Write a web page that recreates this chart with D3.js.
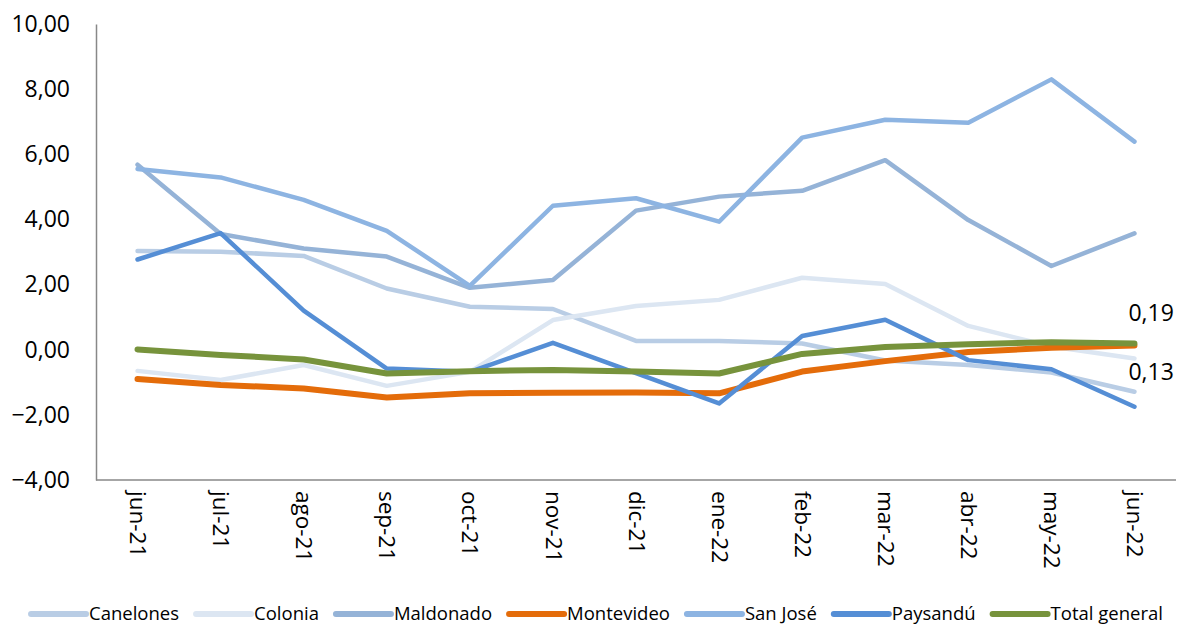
<!DOCTYPE html>
<html>
<head>
<meta charset="utf-8">
<script src="https://cdn.jsdelivr.net/npm/d3@7"></script>
<style>
  body { margin: 0; background: #fff; }
  #chart { width: 1178px; height: 626px; }
  text { font-family: "Open Sans", "Noto Sans", sans-serif; fill: #000; }
</style>
</head>
<body>
<div id="chart"></div>
<script>
const months = ["jun-21", "jul-21", "ago-21", "sep-21", "oct-21", "nov-21", "dic-21",
  "ene-22", "feb-22", "mar-22", "abr-22", "may-22", "jun-22"];
const yTicks = [-4, -2, 0, 2, 4, 6, 8, 10];

const canelones = [3.03, 3.01, 2.88, 1.88, 1.32, 1.25, 0.27, 0.27, 0.19, -0.33, -0.47, -0.70, -1.29];
const colonia = [-0.65, -0.93, -0.47, -1.11, -0.68, 0.91, 1.34, 1.53, 2.21, 2.02, 0.73, 0.10, -0.27];
const maldonado = [5.68, 3.55, 3.11, 2.86, 1.90, 2.14, 4.27, 4.70, 4.88, 5.82, 3.98, 2.57, 3.57];
const montevideo = [-0.90, -1.08, -1.19, -1.47, -1.34, -1.32, -1.31, -1.34, -0.67, -0.35, -0.07, 0.06, 0.13];
const sanJose = [5.55, 5.29, 4.60, 3.65, 1.96, 4.42, 4.65, 3.93, 6.51, 7.06, 6.97, 8.30, 6.39];
const paysandu = [2.77, 3.58, 1.20, -0.58, -0.68, 0.21, -0.72, -1.65, 0.42, 0.92, -0.32, -0.60, -1.75];
const totalGeneral = [0.01, -0.16, -0.30, -0.73, -0.66, -0.62, -0.67, -0.73, -0.13, 0.08, 0.17, 0.23, 0.19];

(function() {
  const width = 1178;
  const height = 626;
  const margin = { top: 24, right: 2, bottom: 146, left: 96 };

  const series = [
    { name: "Canelones", values: canelones, color: "#B9CDE5", w: 4.5 },
    { name: "Colonia", values: colonia, color: "#DCE6F2", w: 4.5 },
    { name: "Maldonado", values: maldonado, color: "#95B3D7", w: 4.5 },
    { name: "Montevideo", values: montevideo, color: "#E46C0A", w: 6 },
    { name: "San José", values: sanJose, color: "#8DB4E2", w: 4.5 },
    { name: "Paysandú", values: paysandu, color: "#558ED5", w: 4.5 },
    { name: "Total general", values: totalGeneral, color: "#77933C", w: 6 }
  ];

  const svg = d3.select("#chart")
    .append("svg")
    .attr("width", width)
    .attr("height", height);

  const x = d3.scalePoint().domain(months).range([margin.left, width - margin.right]).padding(0.5);
  const y = d3.scaleLinear().domain([-4, 10]).range([height - margin.bottom, margin.top]);

  const locale = d3.formatLocale({ decimal: ",", thousands: ".", grouping: [3], currency: ["", ""] });
  const fmt = locale.format(".2f");

  // y axis
  const yAxis = svg.append("g")
    .attr("transform", `translate(${margin.left},0)`)
    .call(d3.axisLeft(y).tickValues(yTicks).tickFormat(fmt).tickSize(0).tickPadding(26));
  yAxis.select(".domain").attr("stroke", "#888").attr("stroke-width", 1.5);
  yAxis.selectAll("text").attr("font-size", 23).attr("font-family", "Open Sans, sans-serif").attr("fill", "#000");

  // x axis
  const xAxis = svg.append("g")
    .attr("transform", `translate(0,${height - margin.bottom})`)
    .call(d3.axisBottom(x).tickSize(0).tickSizeOuter(0));
  xAxis.select(".domain").attr("stroke", "#888").attr("stroke-width", 1.5)
    .attr("d", `M${margin.left},0H${width - margin.right}`);
  xAxis.selectAll("text")
    .attr("font-size", 22.5)
    .attr("font-family", "Open Sans, sans-serif")
    .attr("fill", "#000")
    .attr("transform", "rotate(90)")
    .attr("text-anchor", "start")
    .attr("x", 11)
    .attr("y", 0)
    .attr("dy", "0.35em");

  const line = d3.line()
    .x((d, i) => x(months[i]))
    .y(d => y(d));

  svg.append("g").selectAll("path")
    .data(series)
    .join("path")
    .attr("fill", "none")
    .attr("stroke", d => d.color)
    .attr("stroke-width", d => d.w)
    .attr("stroke-linejoin", "round")
    .attr("stroke-linecap", "round")
    .attr("d", d => line(d.values));

  // data labels on the last point
  const last = months.length - 1;
  svg.append("text")
    .attr("x", x(months[last]) - 6)
    .attr("y", y(totalGeneral[last]) - 31)
    .attr("dy", "0.35em")
    .attr("font-size", 23)
    .text(fmt(totalGeneral[last]));
  svg.append("text")
    .attr("x", x(months[last]) - 6)
    .attr("y", y(montevideo[last]) + 26)
    .attr("dy", "0.35em")
    .attr("font-size", 23)
    .text(fmt(montevideo[last]));

  // legend
  const legendY = 614;
  const legend = svg.append("g");
  const items = legend.selectAll("g")
    .data(series)
    .join("g");
  items.append("line")
    .attr("x1", 0).attr("x2", 55)
    .attr("y1", 0).attr("y2", 0)
    .attr("stroke", d => d.color)
    .attr("stroke-width", 6)
    .attr("stroke-linecap", "round");
  items.append("text")
    .attr("x", 58)
    .attr("dy", "0.35em")
    .attr("font-size", 18.5)
    .text(d => d.name);

  let cx = 0;
  items.each(function() {
    const g = d3.select(this);
    const tw = g.select("text").node().getComputedTextLength();
    g.attr("transform", `translate(${cx},${legendY})`);
    cx += 58 + tw + 17;
  });
  const total = cx - 17;
  legend.attr("transform", `translate(${597 - total / 2},0)`);
})();
</script>
</body>
</html>
